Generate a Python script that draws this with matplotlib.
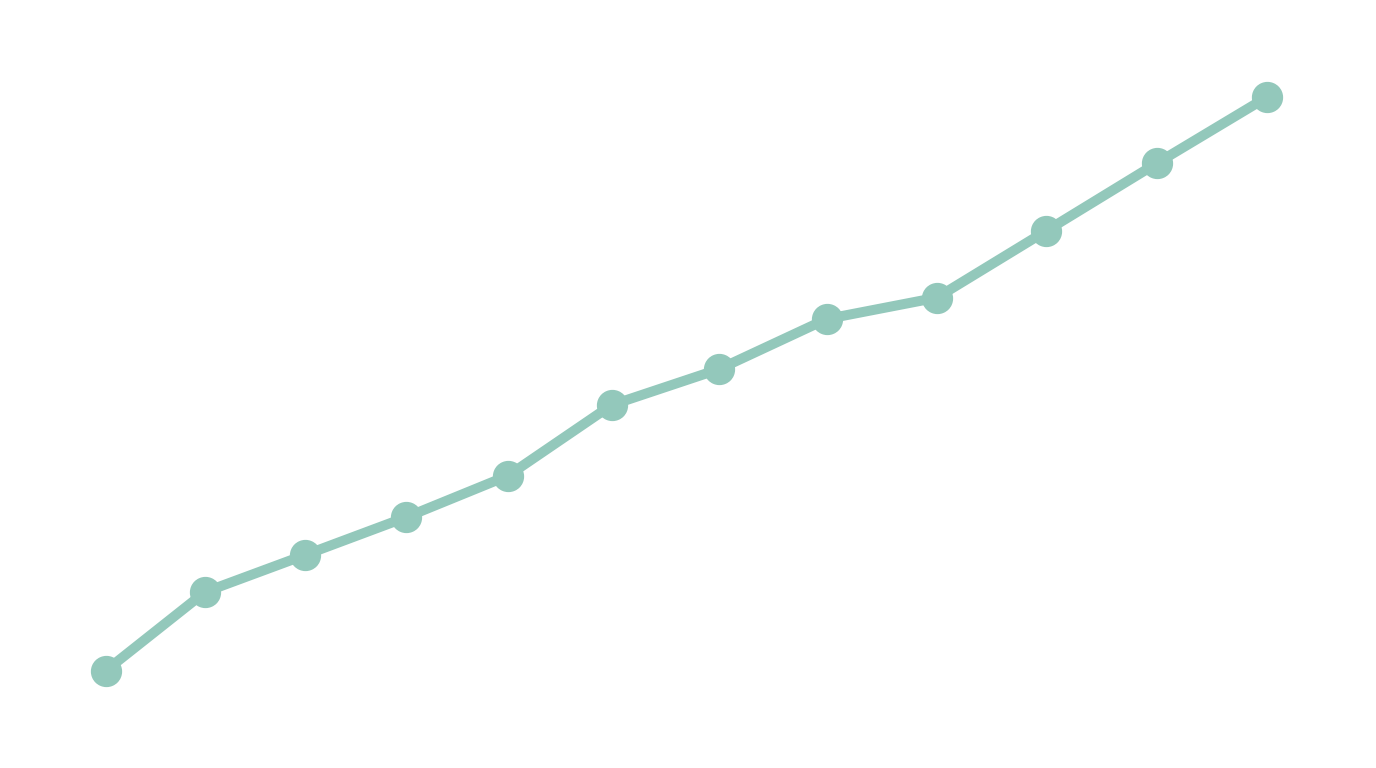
import matplotlib
matplotlib.use('Agg')
import matplotlib.pyplot as plt

# values (horizontal position, level)
STEPS  = [105.7, 205.0, 305.0, 406.0, 508.0, 611.7, 718.7, 826.7, 936.7, 1046.0, 1156.7, 1266.7]
LEVELS = [97.3, 176.0, 213.0, 250.7, 292.3, 363.0, 398.7, 449.0, 470.3, 537.0, 604.7, 670.7]

COLOR = "#93C8BB"

fig = plt.figure(figsize=(13.76, 7.68), dpi=100)
ax = fig.add_axes([0, 0, 1, 1])
ax.plot(STEPS, LEVELS, color=COLOR, linewidth=7.2,
        marker="o", markersize=21.5, solid_capstyle="round")
ax.set_xlim(0, 1376)
ax.set_ylim(0, 768)
ax.axis("off")

fig.savefig("out.png", dpi=100, facecolor="white")
plt.close()
